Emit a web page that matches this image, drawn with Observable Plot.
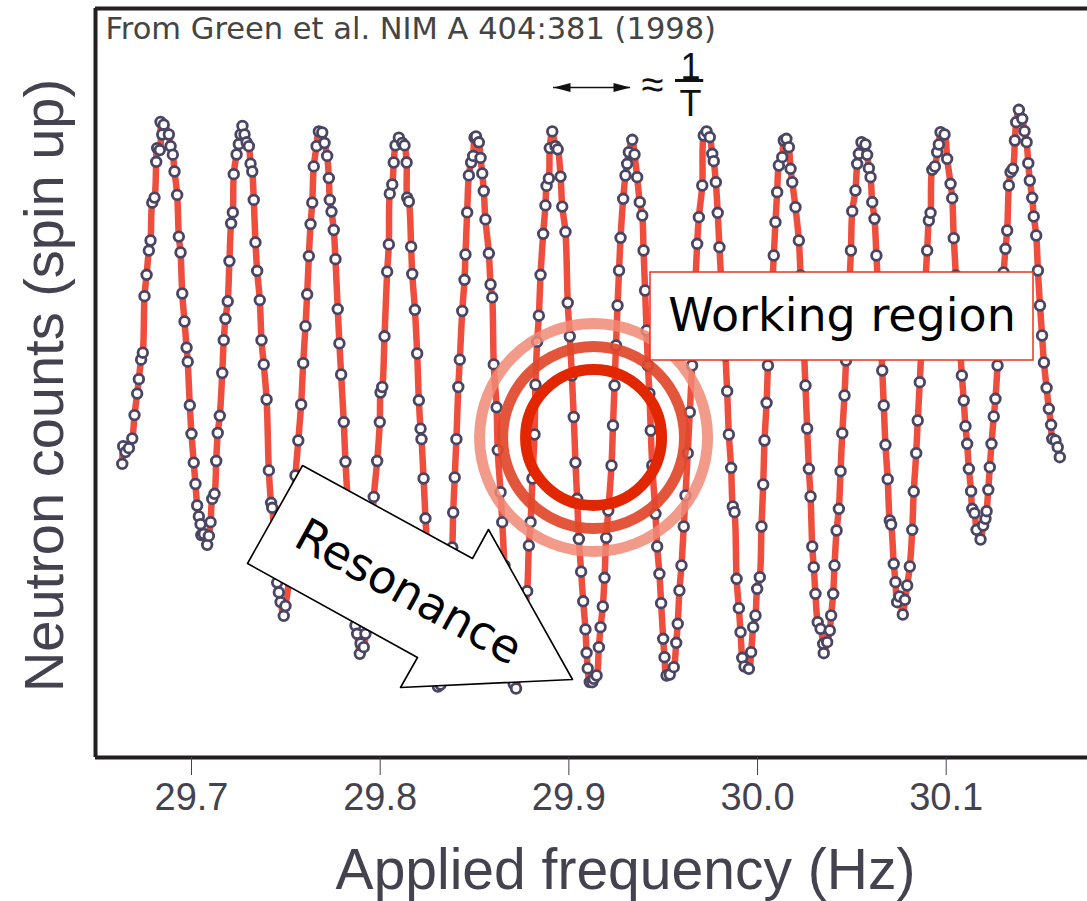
<!DOCTYPE html>
<html>
<head>
<meta charset="utf-8">
<script src="https://cdn.jsdelivr.net/npm/d3@7"></script>
<script src="https://cdn.jsdelivr.net/npm/@observablehq/plot@0.6"></script>
<style>
  body { margin: 0; background: #fff; }
  #chart { width: 1087px; height: 901px; }
</style>
</head>
<body>
<div id="chart"></div>
<script>
// ---- Data (frequency in Hz, neutron counts in arbitrary units) ----
const freq = [
29.6633,29.6638,29.6650,29.6668,29.6686,29.6698,29.6712,29.6721,29.6733,29.6742,
29.6751,29.6762,29.6774,29.6783,29.6792,29.6804,29.6813,29.6818,29.6832,29.6836,
29.6845,29.6853,29.6880,29.6889,29.6901,29.6910,29.6924,29.6933,29.6942,29.6951,
29.6963,29.6974,29.6980,29.6991,29.7000,29.7012,29.7021,29.7030,29.7039,29.7048,
29.7052,29.7065,29.7083,29.7092,29.7101,29.7110,29.7122,29.7131,29.7139,29.7150,
29.7163,29.7171,29.7180,29.7192,29.7201,29.7210,29.7219,29.7224,29.7239,29.7251,
29.7260,29.7270,29.7281,29.7292,29.7304,29.7313,29.7322,29.7330,29.7339,29.7348,
29.7362,29.7371,29.7383,29.7398,29.7410,29.7422,29.7428,29.7441,29.7454,29.7463,
29.7472,29.7489,29.7498,29.7516,29.7533,29.7551,29.7566,29.7581,29.7592,29.7604,
29.7613,29.7622,29.7631,29.7640,29.7648,29.7663,29.7675,29.7693,29.7705,29.7719,
29.7728,29.7733,29.7742,29.7754,29.7763,29.7775,29.7784,29.7793,29.7807,29.7816,
29.7829,29.7843,29.7856,29.7869,29.7878,29.7892,29.7896,29.7913,29.7922,29.7935,
29.7949,29.7966,29.7984,29.7998,29.8002,29.8011,29.8023,29.8037,29.8046,29.8051,
29.8064,29.8072,29.8081,29.8099,29.8117,29.8129,29.8140,29.8143,29.8152,29.8164,
29.8170,29.8184,29.8196,29.8205,29.8214,29.8219,29.8230,29.8240,29.8253,29.8267,
29.8280,29.8293,29.8306,29.8320,29.8333,29.8346,29.8359,29.8373,29.8382,29.8387,
29.8395,29.8404,29.8414,29.8422,29.8435,29.8447,29.8452,29.8461,29.8470,29.8482,
29.8493,29.8500,29.8508,29.8523,29.8532,29.8541,29.8549,29.8558,29.8576,29.8585,
29.8594,29.8602,29.8617,29.8623,29.8638,29.8647,29.8659,29.8673,29.8685,29.8696,
29.8708,29.8720,29.8733,29.8746,29.8760,29.8779,29.8788,29.8797,29.8807,29.8818,
29.8823,29.8832,29.8841,29.8850,29.8864,29.8876,29.8882,29.8894,29.8899,29.8912,
29.8929,29.8941,29.8956,29.8965,29.8982,29.8994,29.9005,29.9016,29.9026,29.9035,
29.9044,29.9053,29.9065,29.9076,29.9088,29.9094,29.9100,29.9111,29.9124,29.9132,
29.9147,29.9159,29.9168,29.9180,29.9189,29.9198,29.9209,29.9226,29.9234,29.9242,
29.9250,29.9258,29.9266,29.9274,29.9288,29.9300,29.9309,29.9318,29.9336,29.9348,
29.9362,29.9376,29.9389,29.9396,29.9404,29.9412,29.9419,29.9427,29.9434,29.9442,
29.9459,29.9468,29.9480,29.9489,29.9500,29.9507,29.9518,29.9535,29.9556,29.9569,
29.9577,29.9586,29.9597,29.9609,29.9618,29.9630,29.9641,29.9653,29.9662,29.9671,
29.9680,29.9689,29.9707,29.9715,29.9730,29.9747,29.9760,29.9768,29.9779,29.9789,
29.9798,29.9809,29.9820,29.9830,29.9839,29.9848,29.9860,29.9869,29.9878,29.9889,
29.9901,29.9910,29.9919,29.9931,29.9954,29.9966,29.9977,29.9989,29.9998,30.0012,
30.0021,30.0030,30.0037,30.0048,30.0055,30.0066,30.0077,30.0086,30.0095,30.0104,
30.0113,30.0131,30.0139,30.0153,30.0166,30.0175,30.0184,30.0201,30.0219,30.0228,
30.0237,30.0245,30.0254,30.0263,30.0272,30.0281,30.0290,30.0298,30.0307,30.0319,
30.0334,30.0348,30.0351,30.0369,30.0383,30.0390,30.0401,30.0408,30.0419,30.0431,
30.0440,30.0449,30.0461,30.0469,30.0478,30.0487,30.0495,30.0502,30.0519,30.0528,
30.0537,30.0551,30.0572,30.0581,30.0590,30.0599,30.0608,30.0620,30.0630,30.0641,
30.0652,30.0661,30.0669,30.0678,30.0690,30.0701,30.0708,30.0722,30.0731,30.0740,
30.0752,30.0770,30.0781,30.0793,30.0807,30.0820,30.0828,30.0841,30.0849,30.0860,
30.0869,30.0880,30.0890,30.0899,30.0908,30.0917,30.0926,30.0940,30.0952,30.0961,
30.0970,30.0991,30.1005,30.1023,30.1032,30.1040,30.1051,30.1061,30.1072,30.1083,
30.1093,30.1102,30.1111,30.1120,30.1132,30.1138,30.1150,30.1161,30.1182,30.1196,
30.1208,30.1214,30.1223,30.1231,30.1240,30.1252,30.1261,30.1272,30.1282,30.1293,
30.1304,30.1314,30.1323,30.1332,30.1341,30.1353,30.1364,30.1371,30.1385,30.1403,
30.1415,30.1426,30.1435,30.1443,30.1456,30.1464,30.1477,30.1486,30.1497,30.1508,
30.1518,30.1532,30.1544,30.1556,30.1562,30.1579,30.1591,30.1602
];
const counts = [
2937,3113,3054,3093,3190,3424,3639,3783,3978,4048,
4613,4827,5069,5170,5548,5599,5957,6094,6074,6355,
6230,6328,6230,6113,6028,5860,5626,5209,5050,4640,
4360,4099,3958,3522,3237,2949,2735,2520,2411,2333,
2224,2236,2127,2216,2353,2586,2637,2965,3245,3417,
3845,4173,4387,4562,4964,5342,5451,5833,6030,6133,
6230,6316,6230,6152,6113,5938,5860,5576,5151,4866,
4574,4173,3931,3580,2871,2547,2497,2120,1749,1651,
1554,1417,1515,1768,2270,2820,3170,3530,3943,4313,
4632,5014,5334,5548,5911,6113,6261,6250,6145,6016,
5794,5576,5459,5275,4983,4484,4141,3830,3354,2957,
2520,2070,1620,1320,1237,1037,1140,1103,1237,1570,
2020,2606,2965,3354,3650,3705,4212,4858,5131,5638,
5731,5950,6121,6199,6145,6121,5950,5599,5560,5108,
4835,4477,4040,3572,3288,3183,2790,2392,1970,1570,
1170,890,710,730,920,1220,1570,1920,2100,2450,
2801,3183,3705,3978,4465,4777,5030,5451,5821,5950,
6016,6199,6211,6152,5996,5841,5665,5381,5042,4730,
4601,3931,3502,3074,2653,2353,1920,1570,1220,950,
735,690,820,1070,1370,1663,2119,2353,2790,3230,
3728,4157,4418,4827,5237,5521,5716,5790,6094,6261,
6113,6082,5809,5509,5256,4547,4212,3820,3405,2949,
2587,2185,1858,1562,1281,1047,891,755,753,787,
820,1103,1303,1510,1797,2197,2470,2920,3320,3720,
4120,4520,4870,5197,5587,5820,5937,6053,6177,6030,
5803,5553,5420,5070,4670,4270,3920,3640,3270,2920,
2437,2110,1837,1543,1187,1003,820,830,903,1147,
1337,1670,1920,2310,2620,3043,3453,3920,4370,4770,
5137,5403,5720,6220,6260,6203,6037,5963,5753,5447,
5103,4720,4370,4020,3663,3230,2897,2510,2453,1787,
1493,1253,997,910,887,1053,1303,1420,1687,1803,
2310,2730,3170,3547,3920,4320,4670,5020,5353,5653,
5920,6003,6170,6187,6103,5887,5753,5503,5170,4820,
4470,4120,3720,3290,2887,2610,2110,1903,1637,1353,
1287,1137,1043,1153,1270,1420,1637,1920,2270,2487,
2863,3243,3620,3970,4370,4720,5070,5463,5670,5937,
6037,6153,6130,6027,5893,5803,5553,5387,5020,4620,
4220,3870,3520,3127,2783,2370,2330,1937,1753,1553,
1610,1430,1577,1720,1910,2277,2660,3043,3370,3753,
4120,4470,4770,5070,5370,5447,5877,5910,6053,6130,
6253,6230,5987,5737,5593,5193,4820,4470,4120,3820,
3570,3313,3137,2887,2663,2487,2443,2277,2180,2320,
2387,2463,2677,2903,3137,3410,3587,3920,4270,4570,
4850,5087,5270,5720,5853,5887,6170,6353,6477,6387,
6263,6153,5943,5770,5597,5410,5220,4870,4520,4220,
3950,3697,3487,3327,3187,3170,3103,3003
];
const xTicks = [29.7, 29.8, 29.9, 30.0, 30.1];
const xDomain = [29.64912, 30.17488];
const yDomain = [0, 7490];

// annotations (positions in data units)
const ringCenter = [{f: 29.9131, c: 3200}];
const workingBox = [{f1: 29.94327, f2: 30.14626, c1: 3970, c2: 4850}];
const workingLabel = [{f: 30.04477, c: 4410, text: "Working region"}];
const arrowFreq = [29.75883, 29.84893, 29.85741, 29.90193, 29.81077, 29.81978, 29.72968];
const arrowCounts = [2920, 1990, 2280, 780, 700, 1000, 1940];
const resonanceLabel = [{f: 29.81501, c: 1650, text: "Resonance"}];
const periodArrow = [{f1: 29.89186, f2: 29.93267, c: 6700}];
const periodHeads = [{f: 29.90087, c: 6700, dir: -90}, {f: 29.92366, c: 6700, dir: 90}];
const approxSign = [{f: 29.94433, c: 6720, text: "≈"}];
const fracParts = [{f: 29.96447, c: 6900, text: "1"}, {f: 29.96447, c: 6530, text: "T"}];
const fracBar = [{f1: 29.95652, f2: 29.97148, c: 6770}];
const sourceNote = [{f: 29.65442, c: 7280, text: "From Green et al. NIM A 404:381 (1998)"}];
const xTitle = [{f: 29.93002, c: -1130, text: "Applied frequency (Hz)"}];
const yTitle = [{f: 29.62262, c: 3720, text: "Neutron counts (spin up)"}];

const data = freq.map((f, i) => ({f, c: counts[i]}));
const arrowPoly = arrowFreq.map((f, i) => ({f, c: arrowCounts[i]}));

// narrow filled arrowhead symbol (tip up, base at origin)
const headSymbol = {
  draw(ctx) {
    ctx.moveTo(0, -17);
    ctx.lineTo(4.5, 0);
    ctx.lineTo(-4.5, 0);
    ctx.closePath();
  }
};

const textColor = "#45424f";

const chart = Plot.plot({
  width: 1087,
  height: 901,
  marginLeft: 95,
  marginRight: 0,
  marginTop: 8,
  marginBottom: 144,
  x: {domain: xDomain, axis: null},
  y: {domain: yDomain, axis: null},
  style: {fontFamily: "'Liberation Sans', Arial, sans-serif", background: "white", overflow: "visible"},
  marks: [
    // fit line through the data and the data points
    Plot.line(data, {x: "f", y: "c", stroke: "#ef4e3c", strokeWidth: 6.5, curve: "catmull-rom"}),
    Plot.dot(data, {x: "f", y: "c", r: 4.8, stroke: "#4a4563", strokeWidth: 2.8, fill: "white"}),
    // working region rings
    Plot.dot(ringCenter, {x: "f", y: "c", r: 114, stroke: "#f08a76", strokeWidth: 11, fill: "none", strokeOpacity: 0.85}),
    Plot.dot(ringCenter, {x: "f", y: "c", r: 91, stroke: "#e2482a", strokeWidth: 11, fill: "none", strokeOpacity: 0.92}),
    Plot.dot(ringCenter, {x: "f", y: "c", r: 68, stroke: "#e22600", strokeWidth: 11, fill: "none"}),
    // resonance arrow
    Plot.line(arrowPoly, {x: "f", y: "c", curve: "linear-closed", fill: "white", stroke: "black", strokeWidth: 1.6}),
    Plot.text(resonanceLabel, {x: "f", y: "c", text: "text", rotate: 29, fontSize: 46, fontFamily: "'DejaVu Sans', sans-serif", fill: "black"}),
    // working region box
    Plot.rect(workingBox, {x1: "f1", x2: "f2", y1: "c1", y2: "c2", fill: "white", stroke: "#e8341c", strokeWidth: 1.5}),
    Plot.text(workingLabel, {x: "f", y: "c", text: "text", fontSize: 46, fontFamily: "'DejaVu Sans', sans-serif", fill: "black"}),
    // period annotation
    Plot.ruleY(periodArrow, {y: "c", x1: "f1", x2: "f2", stroke: "#111", strokeWidth: 1.5}),
    Plot.dot(periodHeads, {x: "f", y: "c", symbol: headSymbol, rotate: "dir", fill: "#111", stroke: "none", r: 5}),
    Plot.text(approxSign, {x: "f", y: "c", text: "text", fontSize: 40, fill: "#111"}),
    Plot.text(fracParts, {x: "f", y: "c", text: "text", fontSize: 36, fill: "#111"}),
    Plot.ruleY(fracBar, {y: "c", x1: "f1", x2: "f2", stroke: "#111", strokeWidth: 3}),
    // source note
    Plot.text(sourceNote, {x: "f", y: "c", text: "text", textAnchor: "start", fontSize: 30.5, fontFamily: "'DejaVu Sans', sans-serif", fill: "#444"}),
    // frame
    Plot.ruleX([xDomain[0]], {stroke: "#231f20", strokeWidth: 4}),
    Plot.ruleY(yDomain, {stroke: "#231f20", strokeWidth: 4}),
    // axis
    Plot.axisX(xTicks, {tickSize: 18, tickPadding: 8, tickFormat: d => d.toFixed(1), fontSize: 38,
      fontFamily: "'Liberation Sans Narrow', 'Liberation Sans', sans-serif", color: textColor, label: null}),
    Plot.text(xTitle, {x: "f", y: "c", text: "text", fontSize: 57, fill: textColor}),
    Plot.text(yTitle, {x: "f", y: "c", text: "text", fontSize: 56, rotate: -90, fill: textColor})
  ]
});
document.getElementById("chart").appendChild(chart);
</script>
</body>
</html>
